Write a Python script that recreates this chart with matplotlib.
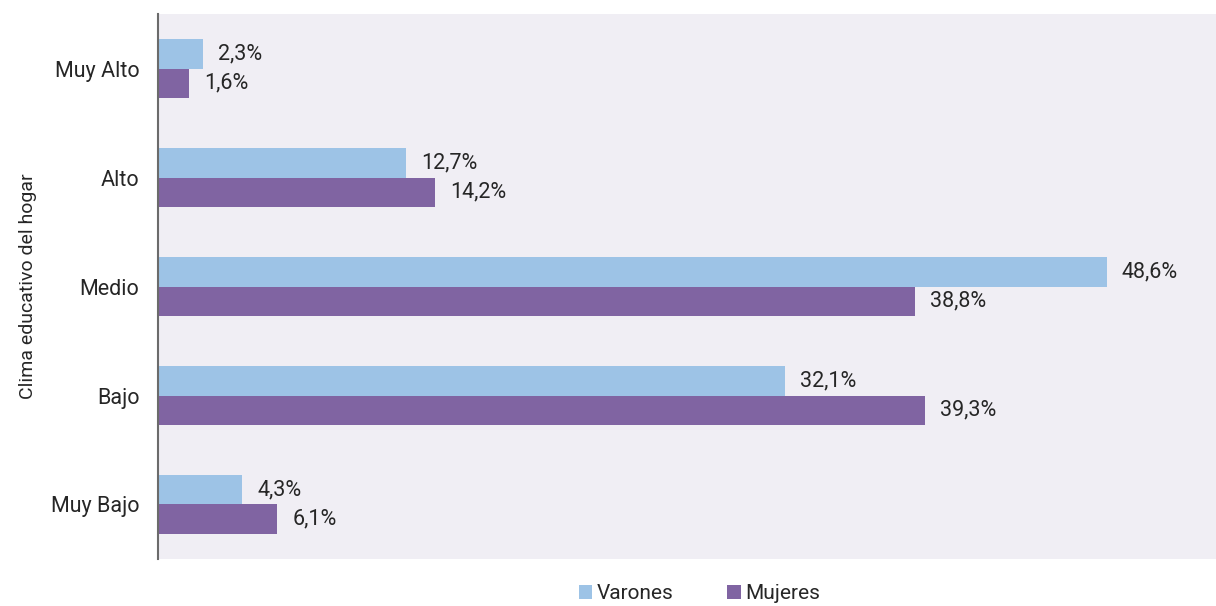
import matplotlib.pyplot as plt
import numpy as np

plt.rcParams['font.family'] = ['Roboto', 'DejaVu Sans']

categorias = ['Muy Alto', 'Alto', 'Medio', 'Bajo', 'Muy Bajo']
varones = [2.3, 12.7, 48.6, 32.1, 4.3]
mujeres = [1.6, 14.2, 38.8, 39.3, 6.1]

c_var = '#9DC3E6'
c_muj = '#8064A2'
txt = '#262626'
fs = 15.5

fig = plt.figure(figsize=(12.16, 6.06), dpi=100)
ax = fig.add_axes([0.13, 0.0776, 0.87, 0.899])
ax.set_facecolor('#F0EEF4')

y = np.arange(len(categorias))
h = 0.27
ax.barh(y - h / 2, varones, height=h, color=c_var, label='Varones')
ax.barh(y + h / 2, mujeres, height=h, color=c_muj, label='Mujeres')

for yi, v in zip(y, varones):
    ax.annotate(f'{v:.1f}%'.replace('.', ','), (v, yi - h / 2), xytext=(15, 0),
                textcoords='offset pixels', va='center', ha='left', fontsize=fs, color=txt)
for yi, v in zip(y, mujeres):
    ax.annotate(f'{v:.1f}%'.replace('.', ','), (v, yi + h / 2), xytext=(15, 0),
                textcoords='offset pixels', va='center', ha='left', fontsize=fs, color=txt)

ax.set_xlim(0, 54.2)
ax.set_ylim(4.5, -0.5)
ax.set_yticks(y)
ax.set_yticklabels(categorias, fontsize=fs, color=txt)
ax.tick_params(axis='y', length=0, pad=13.5)
ax.set_xticks([])
for s in ['top', 'right', 'bottom']:
    ax.spines[s].set_visible(False)
ax.spines['left'].set_color('#6b6b6b')
ax.spines['left'].set_linewidth(1.5)
ax.set_ylabel('Clima educativo del hogar', fontsize=14, color=txt, labelpad=10)

fig.legend(loc='center', bbox_to_anchor=(0.575, 0.02), ncol=2, frameon=False,
           fontsize=15, handlelength=0.65, handleheight=0.65, handletextpad=0.2,
           columnspacing=2.6, labelcolor=txt, borderpad=0.1)

fig.savefig('out.png', dpi=100)
